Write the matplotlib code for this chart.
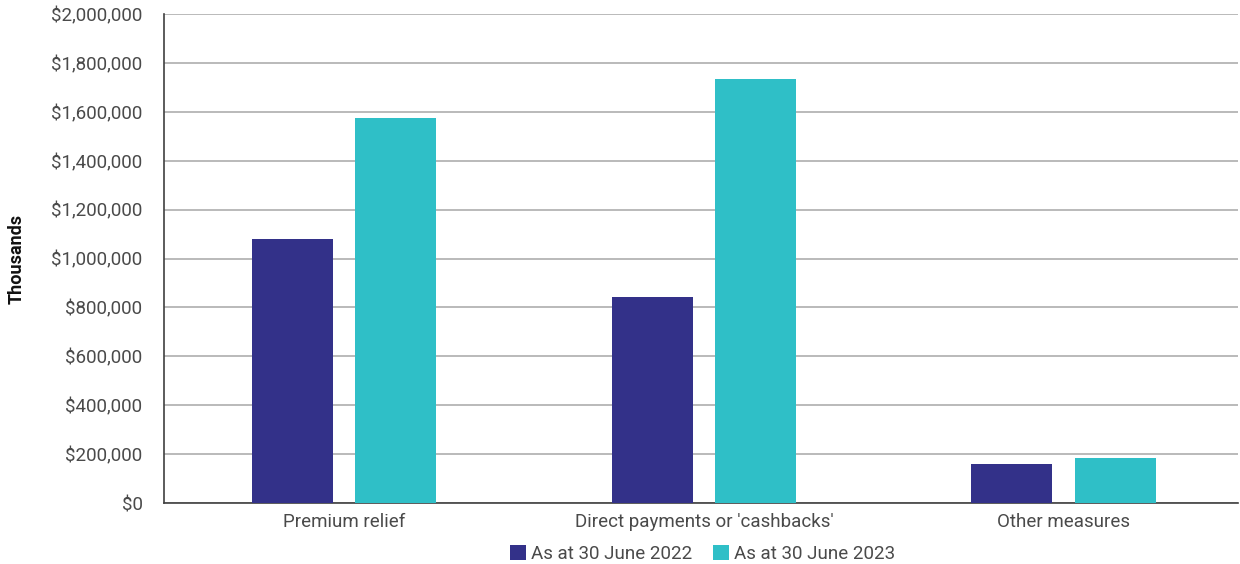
import matplotlib
matplotlib.use("Agg")
import matplotlib.pyplot as plt
import numpy as np
from matplotlib.ticker import FuncFormatter

categories = ["Premium relief", "Direct payments or 'cashbacks'", "Other measures"]
series_names = ["As at 30 June 2022", "As at 30 June 2023"]
values_2022 = [1080000, 842000, 160000]
values_2023 = [1576000, 1733000, 183000]
colors = ["#333189", "#2fbfc7"]

plt.rcParams["font.family"] = ["Roboto", "DejaVu Sans"]

fig = plt.figure(figsize=(12.4, 5.64), dpi=100)
ax = fig.add_axes([0.1323, 0.108, 0.8657, 0.867])

x = np.arange(len(categories))
width = 0.225
offset = 0.144
ax.bar(x - offset, values_2022, width, color=colors[0], label=series_names[0], zorder=3)
ax.bar(x + offset, values_2023, width, color=colors[1], label=series_names[1], zorder=3)

ax.set_xlim(-0.5, 2.483)
ax.set_ylim(0, 2000000)
ax.set_yticks(np.arange(0, 2000001, 200000))
ax.yaxis.set_major_formatter(FuncFormatter(lambda v, p: f"${int(v):,}"))
ax.set_xticks(x)
ax.set_xticklabels(categories)

ax.grid(axis="y", color="#b4b4b4", linewidth=1.3, zorder=0)
ax.set_axisbelow(True)
for s in ["top", "right"]:
    ax.spines[s].set_visible(False)
ax.spines["left"].set_color("#404040")
ax.spines["left"].set_linewidth(1.2)
ax.spines["bottom"].set_color("#404040")
ax.spines["bottom"].set_linewidth(1.2)
ax.tick_params(axis="both", length=0, labelsize=13.5, labelcolor="#4a4a4a")
ax.tick_params(axis="y", pad=15.5)
ax.tick_params(axis="x", pad=7)

ax.set_ylabel("Thousands", fontsize=13, fontweight="bold", color="#111111")
ax.yaxis.set_label_coords(-0.1294, 0.5)

leg = fig.legend(loc="center", bbox_to_anchor=(0.5665, 0.018), ncol=2, frameon=False,
                 fontsize=13.5, handlelength=0.85, handleheight=0.85, handletextpad=0.27,
                 columnspacing=1.1, labelcolor="#4a4a4a")

fig.savefig("out.png", dpi=100)
